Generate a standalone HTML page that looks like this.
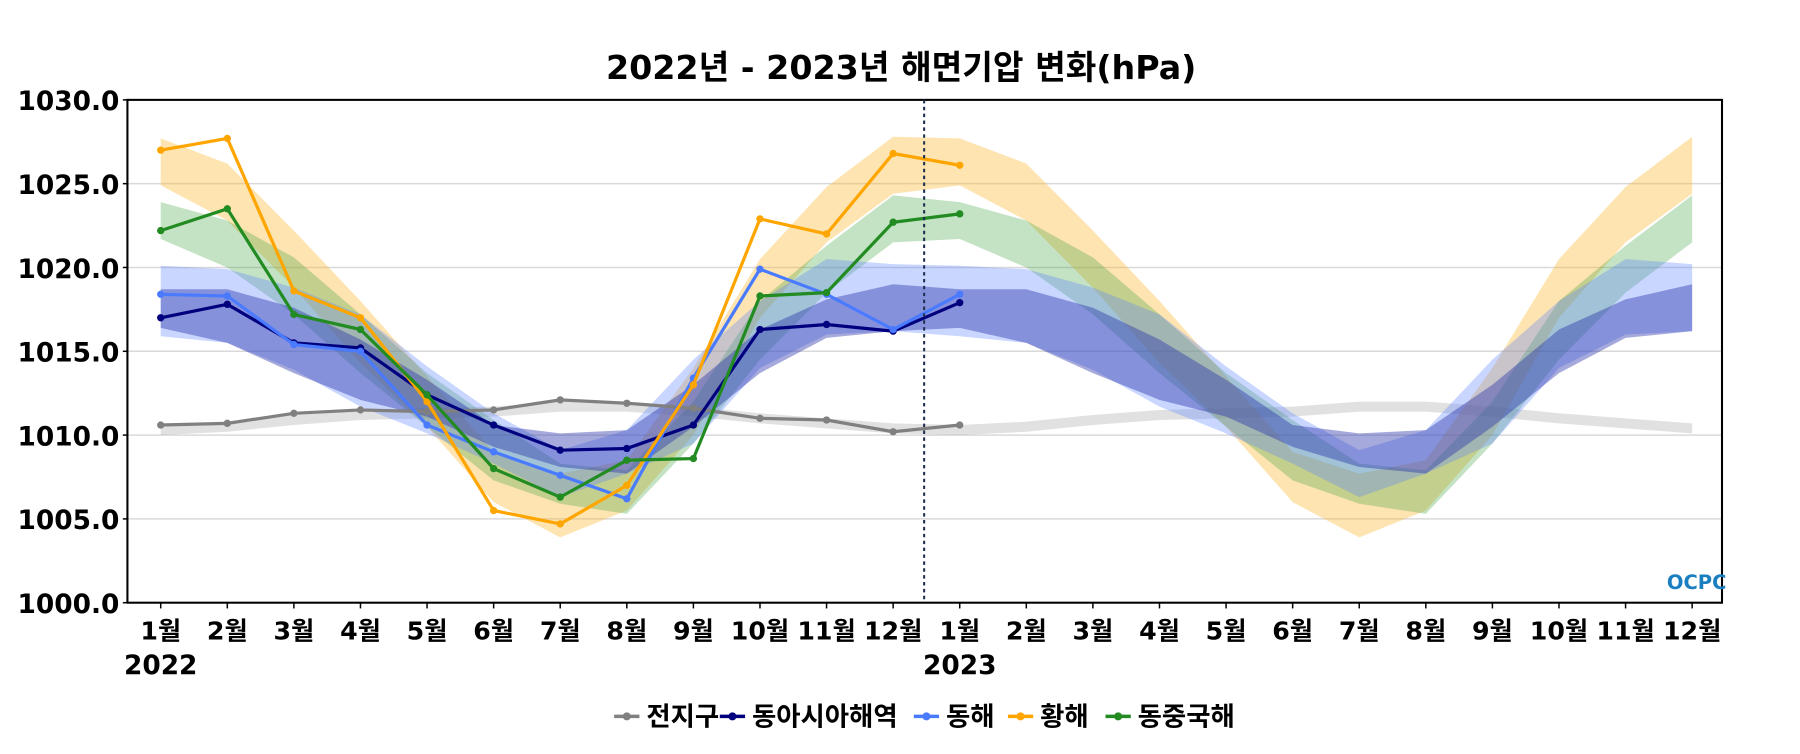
<!DOCTYPE html>
<html><head><meta charset="utf-8">
<style>
body{margin:0;background:#fff;width:1800px;height:750px;overflow:hidden;font-family:"DejaVu Sans","Noto Sans CJK KR",sans-serif;}
svg text{font-family:"DejaVu Sans","Noto Sans CJK KR",sans-serif;}
</style></head>
<body>
<svg id="chart" width="1800" height="750" xmlns="http://www.w3.org/2000/svg">
<g transform="scale(1.148)">
<text x="785" y="69" text-anchor="middle" font-size="29" font-weight="bold">2022년 - 2023년 해면기압 변화(hPa)</text>
<g id="grid"></g>
<g id="bands"></g>
<g id="lines"></g>
<g id="axes"></g>
<text x="1452" y="513" font-size="17" font-weight="bold" fill="#1a7fc0">OCPC</text>
<g id="legend"></g>
</g>
</svg>
<script>
const months=['1월','2월','3월','4월','5월','6월','7월','8월','9월','10월','11월','12월'];
const yTicks=[1000,1005,1010,1015,1020,1025,1030];
const seriesNames=['전지구','동아시아해역','동해','황해','동중국해'];
const seriesColors=['#808080','#00007f','#4a7bff','#ffa500','#228b22'];
const globalObs=[1010.6,1010.7,1011.3,1011.5,1011.4,1011.5,1012.1,1011.9,1011.6,1011.0,1010.9,1010.2,1010.6];
const eastAsiaObs=[1017.0,1017.8,1015.5,1015.2,1012.4,1010.6,1009.1,1009.2,1010.6,1016.3,1016.6,1016.2,1017.9];
const eastSeaObs=[1018.4,1018.3,1015.4,1015.0,1010.6,1009.0,1007.6,1006.2,1013.4,1019.9,1018.4,1016.3,1018.4];
const yellowSeaObs=[1027.0,1027.7,1018.6,1017.0,1012.0,1005.5,1004.7,1007.0,1013.0,1022.9,1022.0,1026.8,1026.1];
const ecsObs=[1022.2,1023.5,1017.2,1016.3,1012.4,1008.0,1006.3,1008.5,1008.6,1018.3,1018.5,1022.7,1023.2];
const globalLo=[1010.0,1010.2,1010.6,1010.9,1011.0,1011.1,1011.4,1011.4,1011.1,1010.7,1010.4,1010.1];
const globalHi=[1010.6,1010.8,1011.2,1011.5,1011.6,1011.7,1012.0,1012.0,1011.7,1011.3,1011.0,1010.7];
const yellowLo=[1024.9,1022.8,1018.8,1014.3,1010.5,1006.0,1003.9,1005.5,1010.0,1017.0,1021.5,1024.4];
const yellowHi=[1027.7,1026.2,1022.2,1018.0,1013.5,1009.0,1007.7,1008.5,1014.0,1020.5,1024.8,1027.8];
const ecsLo=[1021.7,1020.0,1017.2,1013.7,1010.5,1007.3,1005.9,1005.3,1009.5,1014.5,1018.5,1021.5];
const ecsHi=[1023.9,1022.8,1020.6,1017.2,1013.7,1010.9,1008.3,1007.9,1012.0,1018.0,1021.3,1024.3];
const eastSeaLo=[1015.9,1015.5,1013.9,1011.7,1010.1,1008.3,1006.3,1007.7,1009.5,1014.0,1016.0,1016.2];
const eastSeaHi=[1020.1,1019.9,1018.8,1017.2,1014.1,1011.3,1009.1,1010.3,1014.5,1018.0,1020.5,1020.2];
const eastAsiaLo=[1016.4,1015.5,1013.7,1012.1,1011.1,1009.3,1008.1,1007.7,1010.5,1013.7,1015.8,1016.2];
const eastAsiaHi=[1018.7,1018.7,1017.6,1015.7,1013.3,1010.6,1010.1,1010.3,1013.0,1016.3,1018.1,1019.0];

const NS='http://www.w3.org/2000/svg';
const L=111,R=1500,T=87,B=525,x0=140,dx=58;
const X=i=>x0+i*dx;
const Y=v=>B-(v-1000)/30*(B-T);
function mk(tag,attrs,parent){const e=document.createElementNS(NS,tag);for(const k in attrs)e.setAttribute(k,attrs[k]);parent.appendChild(e);return e;}
const grid=document.getElementById('grid'),axes=document.getElementById('axes'),bands=document.getElementById('bands'),lines=document.getElementById('lines'),legend=document.getElementById('legend');

yTicks.forEach(v=>{
  if(v>1000&&v<1030){const g=mk('line',{x1:L,x2:R,y1:Y(v),y2:Y(v),stroke:'#d9d9d9','stroke-width':1.3},grid);
  
  }
  const t=mk('text',{x:104,y:Y(v)+9,'text-anchor':'end','font-size':23,'font-weight':'bold'},axes);t.textContent=v.toFixed(1);
  
  
  mk('line',{x1:L-4,x2:L,y1:Y(v),y2:Y(v),stroke:'#000','stroke-width':1.3},axes);
});
for(let i=0;i<24;i++){
  const t=mk('text',{x:X(i),y:557,'text-anchor':'middle','font-size':22,'font-weight':'bold'},axes);t.textContent=months[i%12];
  
  
  mk('line',{x1:X(i),x2:X(i),y1:B,y2:B+5,stroke:'#000','stroke-width':1.3},axes);
}
[['2022',X(0)],['2023',X(12)]].forEach(([s,x])=>{const t=mk('text',{x:x-32,y:587,'font-size':23,'font-weight':'bold'},axes);t.textContent=s;
  
  });
const fr=mk('rect',{x:L,y:T,width:R-L,height:B-T,fill:'none',stroke:'#000','stroke-width':1.8},axes);


const dl=mk('line',{x1:805,x2:805,y1:T,y2:B,stroke:'#1f2f4f','stroke-width':1.8,'stroke-dasharray':'3,3'},axes);



function band(lo,hi,fill,name){
  const lo2=lo.concat(lo),hi2=hi.concat(hi);
  let d='M'+hi2.map((v,i)=>X(i)+','+Y(v)).join('L');
  d+='L'+lo2.map((v,i)=>[X(i),Y(v)]).reverse().map(p=>p.join(',')).join('L')+'Z';
  const p=mk('path',{d:d,fill:fill},bands);
  
  
}
band(globalLo,globalHi,'rgba(170,170,170,0.35)','band-global');
band(yellowLo,yellowHi,'rgba(252,185,50,0.38)','band-yellow-sea');
band(ecsLo,ecsHi,'rgba(60,160,60,0.3)','band-east-china-sea');
band(eastSeaLo,eastSeaHi,'rgba(90,130,255,0.33)','band-east-sea');
band(eastAsiaLo,eastAsiaHi,'rgba(40,50,170,0.42)','band-east-asia');

const obs=[globalObs,eastAsiaObs,eastSeaObs,yellowSeaObs,ecsObs];
obs.forEach((arr,s)=>{
  const pl=mk('polyline',{points:arr.map((v,i)=>X(i)+','+Y(v)).join(' '),fill:'none',stroke:seriesColors[s],'stroke-width':2.8},lines);
  
  
  arr.forEach((v,i)=>{const c=mk('circle',{cx:X(i),cy:Y(v),r:3.2,fill:seriesColors[s]},lines);
    
    });
});

const legX=[535,627,796,878,963];
seriesNames.forEach((n,s)=>{
  const x=legX[s];
  mk('line',{x1:x,x2:x+22,y1:624,y2:624,stroke:seriesColors[s],'stroke-width':3},legend);
  mk('circle',{cx:x+11,cy:624,r:3.5,fill:seriesColors[s]},legend);
  const t=mk('text',{x:x+28,y:632,'font-size':23,'font-weight':'bold'},legend);t.textContent=n;
  
  
});
</script>
</body></html>
